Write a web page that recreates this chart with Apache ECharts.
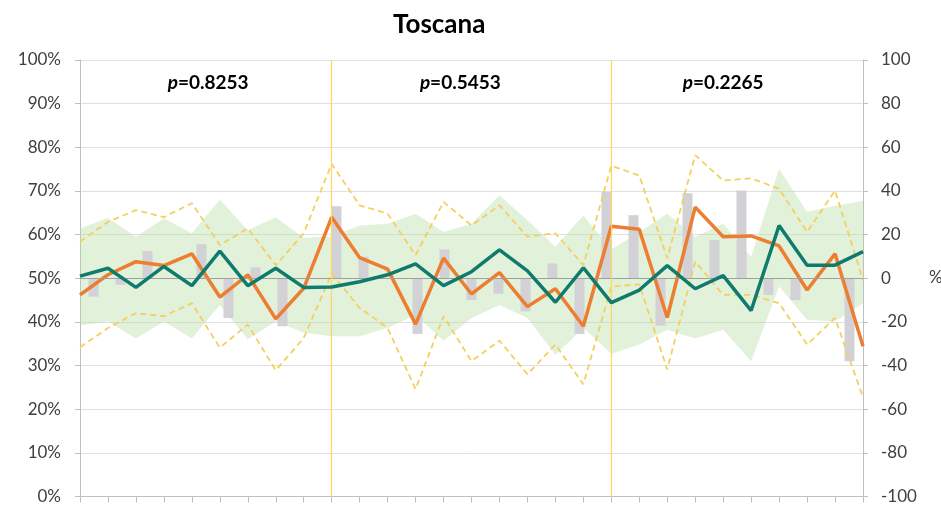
<!DOCTYPE html>
<html>
<head>
<meta charset="utf-8">
<script src="https://cdn.jsdelivr.net/npm/echarts@6/dist/echarts.min.js"></script>
<style>html,body{margin:0;padding:0;background:#fff}#c{width:941px;height:505px}</style>
</head>
<body>
<div id="c"></div>
<script>
// ---- data (left axis values in %, bars on right axis) ----
var categories = [];
for (var k = 1; k <= 29; k++) categories.push(String(k));

var tealLine = [50.5,52.3,47.9,52.7,48.3,56.2,48.3,52.3,47.9,48.0,49.2,50.8,53.3,48.3,51.5,56.5,51.7,44.5,52.4,44.4,47.3,52.9,47.6,50.6,42.6,62.1,53.0,53.0,56.1];
var orangeLine = [46.2,50.8,53.8,52.9,55.6,45.7,50.8,40.7,47.7,64.0,54.7,52.1,39.5,54.6,46.4,51.3,43.5,47.6,39.0,61.9,61.2,41.0,66.3,59.5,59.7,57.4,47.3,55.6,34.4];
var bandUpper = [61.4,63.8,59.5,63.7,60.3,68.0,61.0,64.0,59.3,59.6,62.1,62.5,64.8,60.6,62.5,69.0,63.3,57.2,64.4,56.6,60.6,64.8,59.5,62.5,54.9,75.1,65.2,66.6,67.7];
var bandLower = [39.2,40.1,36.2,40.1,36.2,43.9,36.0,40.1,37.5,36.7,36.7,38.6,41.6,35.7,40.9,43.9,40.9,32.5,38.6,32.7,34.8,38.2,36.2,38.2,31.0,48.1,40.5,40.1,44.3];
var dashUpper = [58.4,62.9,65.6,64.0,67.2,57.6,61.4,53.0,60.3,76.2,66.7,64.8,55.3,67.5,62.1,66.7,59.5,60.3,53.0,75.8,73.5,54.6,78.2,72.4,72.9,70.5,60.6,70.1,49.6];
var dashLower = [34.2,38.6,42.0,41.3,44.3,34.1,39.4,28.9,36.3,51.1,43.2,38.6,24.6,41.3,31.0,35.7,28.0,34.8,25.7,48.1,48.6,29.1,53.8,46.2,46.2,44.3,34.8,40.9,22.7];
var barValues = [-8.4,-3.0,12.5,0,15.6,-18.2,5.0,-22,0,33,9.9,0,-25.5,13.2,-9.9,-7.1,-15.2,6.8,-25.5,39.5,28.9,-21.7,39.0,17.5,40.2,-7.6,-10,0,-38];
var breakIndices = [9, 19];
var pLabels = ['0.8253', '0.5453', '0.2265'];
var leftTicks = {min: 0, max: 100, interval: 10};
var rightTicks = {min: -100, max: 100, interval: 20};

var bandDiff = bandUpper.map(function (u, i) { return +(u - bandLower[i]).toFixed(2); });

var FONT = 'Lato, "Open Sans", sans-serif';
var labelColor = '#404040';

var chart = echarts.init(document.getElementById('c'), null, {renderer: 'canvas'});
var option = {
  animation: false,
  title: {
    text: 'Toscana', left: 388, top: 7,
    textStyle: {fontFamily: FONT, fontWeight: 'bold', fontSize: 26, color: '#000'}
  },
  grid: {left: 80, right: 78, top: 60, bottom: 6, containLabel: false},
  xAxis: [
    {type: 'category', data: categories, boundaryGap: false,
     axisLine: {show: true, lineStyle: {color: '#bfbfbf'}},
     axisTick: {show: true, length: 6, interval: 0, lineStyle: {color: '#bfbfbf'}},
     axisLabel: {show: false}, splitLine: {show: false}},
    {type: 'category', data: categories, boundaryGap: true, show: false}
  ],
  yAxis: [
    {type: 'value', min: leftTicks.min, max: leftTicks.max, interval: leftTicks.interval,
     axisLine: {show: true, lineStyle: {color: '#bfbfbf'}},
     axisTick: {show: true, length: 5, lineStyle: {color: '#bfbfbf'}},
     axisLabel: {formatter: '{value}%', fontFamily: FONT, fontSize: 17, color: labelColor, margin: 19},
     splitLine: {show: true, lineStyle: {color: '#e0e0e0', width: 1}}},
    {type: 'value', min: rightTicks.min, max: rightTicks.max, interval: rightTicks.interval, position: 'right',
     axisLine: {show: true, lineStyle: {color: '#bfbfbf'}},
     axisTick: {show: true, length: 5, lineStyle: {color: '#bfbfbf'}},
     axisLabel: {fontFamily: FONT, fontSize: 17, color: labelColor, margin: 18},
     splitLine: {show: false}}
  ],
  graphic: [
    {type: 'text', left: 929, top: 269, style: {text: '%', font: '17px ' + FONT, fill: labelColor}}
  ],
  series: [
    {type: 'line', name: 'bandLower', data: bandLower, stack: 'band', symbol: 'none',
     lineStyle: {width: 0, opacity: 0}, areaStyle: {opacity: 0}, silent: true, z: 1},
    {type: 'line', name: 'band', data: bandDiff, stack: 'band', symbol: 'none',
     lineStyle: {width: 0, opacity: 0}, areaStyle: {color: 'rgba(180,218,160,0.55)'}, silent: true, z: 1},
    {type: 'bar', name: 'bars', data: barValues, xAxisIndex: 1, yAxisIndex: 1, barWidth: 10,
     itemStyle: {color: '#d2d2d6'}, z: 2,
     markLine: {silent: true, symbol: 'none', label: {show: false},
       lineStyle: {color: '#a0a0a0', width: 1, type: 'solid'},
       data: [{yAxis: 0}]}},
    {type: 'line', name: 'dashUpper', data: dashUpper, symbol: 'none', z: 3,
     lineStyle: {color: '#f5cf5e', width: 1.8, type: [6, 4]},
     markLine: {silent: true, symbol: 'none', label: {show: false},
       lineStyle: {color: '#ffd75e', width: 1.2, type: 'solid', opacity: 1},
       data: breakIndices.map(function (b) { return {xAxis: b}; })}},
    {type: 'line', name: 'dashLower', data: dashLower, symbol: 'none', z: 3,
     lineStyle: {color: '#f5cf5e', width: 1.8, type: [6, 4]}},
    {type: 'line', name: 'orange', data: orangeLine, symbol: 'none', z: 4,
     lineStyle: {color: '#ed7d31', width: 3.5}},
    {type: 'line', name: 'teal', data: tealLine, symbol: 'none', z: 5,
     lineStyle: {color: '#0f7b6c', width: 3.5}}
  ]
};
chart.setOption(option);

// p-value annotations placed over each segment (positions from axis conversion)
var pCenters = [4.58, 13.6, 23.0];
var g = option.graphic.slice();
pLabels.forEach(function (p, i) {
  var lo = Math.floor(pCenters[i]), f = pCenters[i] - lo;
  var x0 = chart.convertToPixel({xAxisIndex: 0}, lo);
  var x1 = chart.convertToPixel({xAxisIndex: 0}, lo + 1);
  var x = x0 + (x1 - x0) * f;
  var y = chart.convertToPixel({yAxisIndex: 0}, 94.8);
  g.push({type: 'text', x: x, y: y,
    style: {text: '{i|p}{b|=' + p + '}', align: 'center', verticalAlign: 'middle',
      rich: {i: {fontFamily: FONT, fontSize: 19, fontWeight: 'bold', fontStyle: 'italic', fill: '#000'},
             b: {fontFamily: FONT, fontSize: 19, fontWeight: 'bold', fill: '#000'}}}});
});
chart.setOption({graphic: g});
</script>
</body>
</html>
